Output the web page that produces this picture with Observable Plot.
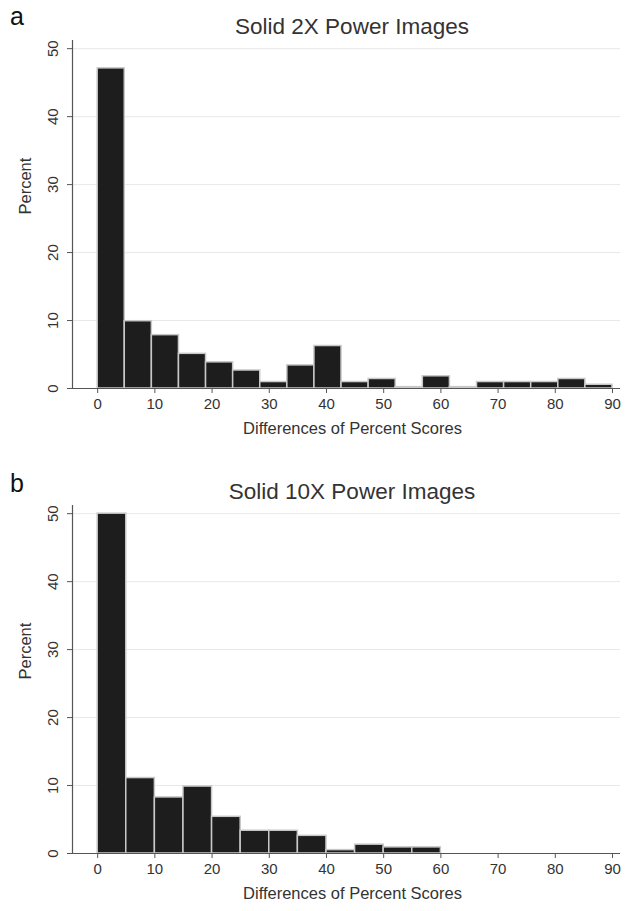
<!DOCTYPE html>
<html>
<head>
<meta charset="utf-8">
<script src="https://cdn.jsdelivr.net/npm/d3@7"></script>
<script src="https://cdn.jsdelivr.net/npm/@observablehq/plot@0.6"></script>
<style>
  body { margin: 0; background: #fff; font-family: "Liberation Sans", Arial, sans-serif; }
  .panel { position: relative; width: 630px; }
  .letter { position: absolute; left: 10px; font-size: 25px; color: #111; }
  .title { position: absolute; left: 0; width: 630px; text-align: center; font-size: 22.5px; color: #333; line-height: 26px; }
  .panel svg { display: block; }
</style>
</head>
<body>
<div id="root"></div>
<script>
// ---- Data ----
const panelLetters = ["a", "b"];
const panelTitles = ["Solid 2X Power Images", "Solid 10X Power Images"];
const xLabel = "Differences of Percent Scores";
const yLabel = "Percent";
const xTicks = [0, 10, 20, 30, 40, 50, 60, 70, 80, 90];
const yTicks = [0, 10, 20, 30, 40, 50];

// Panel a: 19 bins from 0 to 90
const binWidthA = 90 / 19;
const percentA = [47.1, 9.9, 7.85, 5.1, 3.85, 2.65, 0.95, 3.4, 6.25, 0.95, 1.4, 0.2, 1.8, 0.2, 0.95, 0.95, 0.95, 1.4, 0.55];
// Panel b: 12 bins of width 5 from 0 to 60
const binWidthB = 5;
const percentB = [50, 11.1, 8.25, 9.85, 5.4, 3.35, 3.35, 2.6, 0.5, 1.3, 0.9, 0.9];

function bins(values, w) {
  return values.map((v, i) => ({x1: i * w, x2: (i + 1) * w, y: v}));
}

const font = "Liberation Sans, Arial, sans-serif";

function panel(data, height, marginBottom) {
  return Plot.plot({
    width: 630,
    height,
    marginTop: 40,
    marginLeft: 72,
    marginRight: 10,
    marginBottom,
    style: {fontFamily: font, fontSize: "15px", color: "#333", background: "#fff"},
    x: {domain: [-4.4, 91.4]},
    y: {domain: [0, 51.2]},
    marks: [
      Plot.ruleY(yTicks.filter(d => d > 0), {stroke: "#e8e8e8", strokeWidth: 1}),
      Plot.rectY(data, {x1: "x1", x2: "x2", y: "y", fill: "#1d1d1d", stroke: "#c8c8c8", strokeWidth: 1.5}),
      Plot.axisY({ticks: yTicks, tickSize: 5, tickFormat: () => "", label: null, stroke: "#555"}),
      Plot.text(yTicks, {x: -4.4, y: d => d, text: d => String(d), rotate: -90, dx: -19, textAnchor: "middle", fill: "#333", fontSize: 15}),
      Plot.axisX({ticks: xTicks, tickSize: 5, tickPadding: 5, label: null, fontSize: 15, stroke: "#555"}),
      Plot.ruleY([0], {stroke: "#555", strokeWidth: 1.2}),
      Plot.ruleX([-4.4], {stroke: "#555", strokeWidth: 1.2}),
      Plot.text([xLabel], {frameAnchor: "bottom", dy: 45, dx: 6, fontSize: 16.5, fill: "#333"}),
      Plot.text([yLabel], {frameAnchor: "left", dx: -47, rotate: -90, fontSize: 16.5, fill: "#333"})
    ]
  });
}

const root = document.getElementById("root");
const specs = [
  {data: bins(percentA, binWidthA), height: 465, mb: 77, titleTop: 14, letterTop: 2},
  {data: bins(percentB, binWidthB), height: 446, mb: 58, titleTop: 14, letterTop: 4}
];
specs.forEach((s, i) => {
  const div = document.createElement("div");
  div.className = "panel";
  div.appendChild(panel(s.data, s.height, s.mb));
  const l = document.createElement("div");
  l.className = "letter"; l.style.top = s.letterTop + "px"; l.textContent = panelLetters[i];
  const t = document.createElement("div");
  t.className = "title"; t.style.top = s.titleTop + "px"; t.style.left = "37px"; t.textContent = panelTitles[i];
  div.appendChild(l); div.appendChild(t);
  root.appendChild(div);
});
</script>
</body>
</html>
